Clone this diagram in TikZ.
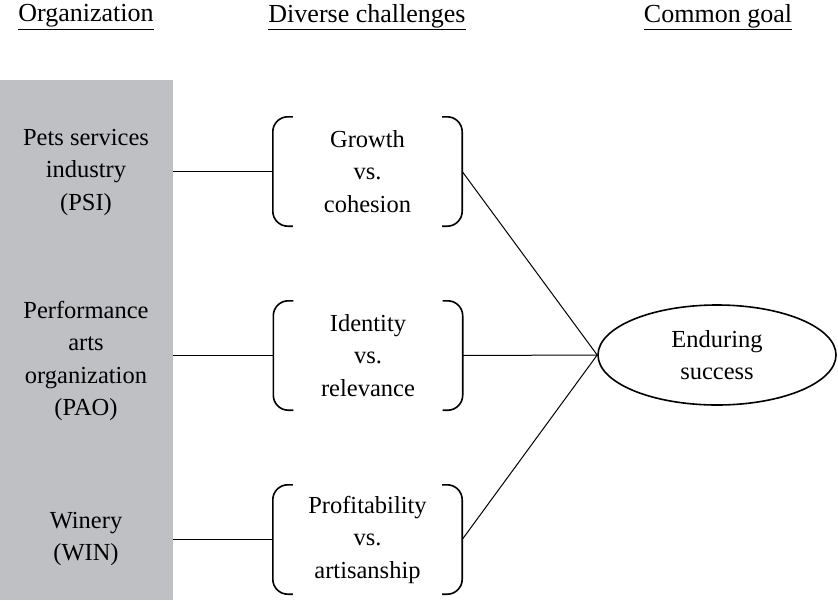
\documentclass[tikz,border=0pt]{standalone}
\usepackage{fontspec}
\setmainfont{Liberation Serif}
\usetikzlibrary{shapes.geometric}
\definecolor{panel}{RGB}{191,192,196}
\begin{document}
\begin{tikzpicture}[x=1pt,y=-1pt,
  txt/.style={font=\fontsize{24.5}{32.5}\selectfont, align=center, inner sep=0pt},
  head/.style={font=\fontsize{26}{32}\selectfont, inner sep=0pt},
  chbox/.style={txt, minimum width=189pt, minimum height=109pt},
  wire/.style={line width=1pt},
  brk/.style={line width=1.6pt, rounded corners=15pt}]
\useasboundingbox (0,0) rectangle (838,600);
\fill[panel] (0,80) rectangle (173,600);
% headers
\node[head] (h1) at (86,17) {\underline{Organization}};
\node[head] (h2) at (367,17) {\underline{Diverse challenges}};
\node[head] (h3) at (718,17) {\underline{Common goal}};
% organizations
\node[txt] (o1) at (86,172) {Pets services\\industry\\(PSI)};
\node[txt] (o2) at (86,361) {Performance\\arts\\organization\\(PAO)};
\node[txt] (o3) at (86,539) {Winery\\(WIN)};
\coordinate (e1) at (173,168);
% challenges
\node[chbox] (c1) at (367.5,171.5) {Growth\\vs.\\cohesion};
\node[chbox] (c2) at (368,355.5) {Identity\\vs.\\relevance};
\node[chbox] (c3) at (367.5,539.5) {Profitability\\vs.\\artisanship};
\foreach \c in {c1,c2,c3}{
  \draw[brk] ([xshift=20pt]\c.north west) -- (\c.north west) -- (\c.south west) -- ([xshift=20pt]\c.south west);
  \draw[brk] ([xshift=-20pt]\c.north east) -- (\c.north east) -- (\c.south east) -- ([xshift=-20pt]\c.south east);
}
% goal
\node[ellipse, draw, line width=1.6pt, minimum width=238pt, minimum height=100pt, inner sep=0pt, font=\fontsize{24.5}{32.5}\selectfont, align=center] (g) at (717,355) {Enduring\\success};
% connectors
\draw[wire] (e1 |- c1.west) -- (c1.west);
\draw[wire] (e1 |- c2.west) -- (c2.west);
\draw[wire] (e1 |- c3.west) -- (c3.west);
\draw[wire] (c1.east) -- (g.west);
\draw[wire] (c2.east) -- (g.west);
\draw[wire] (c3.east) -- (g.west);
\end{tikzpicture}
\end{document}
